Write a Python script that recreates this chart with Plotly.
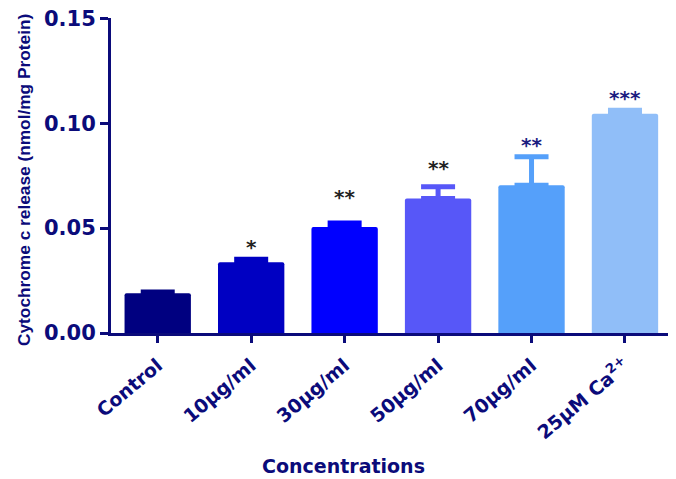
import plotly.graph_objects as go

# ---- data ----
categories = ["Control", "10µg/ml", "30µg/ml", "50µg/ml", "70µg/ml", "25µM Ca<sup>2+</sup>"]
means = [0.0189, 0.0337, 0.0506, 0.0641, 0.0705, 0.1046]
sems = [0.0006, 0.0015, 0.0019, 0.0056, 0.0135, 0.0016]
stars = ["", "*", "**", "**", "**", "***"]
y_ticks = [0.00, 0.05, 0.10, 0.15]

# ---- styles ----
bar_colors = ["#000080", "#0000C2", "#0000FF", "#5757F8", "#55A0FA", "#90BEF8"]
star_colors = ["#222222", "#222222", "#222222", "#222222", "#1c1c80", "#1c1c80"]
star_shift_px = [0, 12, 26, 19, 12, 12]
NAVY = "#0b0b7a"
BOLD = "DejaVu Sans"
PAGE_OFF = 8  # default body margin of the html page

W, H = 676 - PAGE_OFF, 479 - PAGE_OFF
L, T, B = 111 - PAGE_OFF, 18 - PAGE_OFF, 479 - 333

fig = go.Figure()
for i, cat in enumerate(categories):
    fig.add_trace(go.Bar(
        x=[i], y=[means[i]], width=0.71,
        marker=dict(color=bar_colors[i], line=dict(width=0), cornerradius=2),
        error_y=dict(type="data", symmetric=False, array=[sems[i]], arrayminus=[0],
                     color=bar_colors[i], thickness=5, width=17),
        showlegend=False, hoverinfo="skip",
    ))
    if stars[i]:
        fig.add_annotation(x=i, y=means[i] + sems[i], text=f"<b>{stars[i]}</b>",
                           showarrow=False, yanchor="middle", yshift=star_shift_px[i],
                           font=dict(family=BOLD, size=20, color=star_colors[i]))

fig.update_layout(
    width=W, height=H,
    margin=dict(l=L, r=0, t=T, b=B, pad=0),
    paper_bgcolor="white", plot_bgcolor="white",
    barmode="overlay",
    xaxis=dict(
        range=[-0.5, 5.546], tickmode="array",
        tickvals=list(range(len(categories))),
        ticktext=[f"<b>{c}</b>" for c in categories],
        tickangle=-40, showline=True, linecolor=NAVY, linewidth=3,
        ticks="outside", ticklen=7, tickwidth=3, tickcolor=NAVY,
        tickfont=dict(family=BOLD, size=19, color=NAVY),
        showgrid=False, zeroline=False, automargin=False,
        ticklabelstandoff=4, ticklabeloverflow="allow",
    ),
    yaxis=dict(
        range=[0, 0.1502], tickmode="array", tickvals=y_ticks,
        ticktext=[f"<b>{v:.2f}</b>" for v in y_ticks],
        showline=True, linecolor=NAVY, linewidth=3,
        ticks="outside", ticklen=8, tickwidth=3, tickcolor=NAVY,
        tickfont=dict(family=BOLD, size=21, color=NAVY),
        showgrid=False, zeroline=False, automargin=False,
        ticklabeloverflow="allow",
    ),
)

plot_w, plot_h = W - L, H - T - B
fig.add_annotation(xref="paper", yref="paper", x=(343 - 111) / plot_w, y=(333 - 466) / plot_h,
                   text="<b>Concentrations</b>", showarrow=False,
                   xanchor="center", yanchor="middle",
                   font=dict(family=BOLD, size=19, color=NAVY))
fig.add_annotation(xref="paper", yref="paper", x=(24 - 111) / plot_w, y=(333 - 180) / plot_h,
                   text="<b>Cytochrome c release (nmol/mg Protein)</b>", showarrow=False,
                   textangle=-90, xanchor="center", yanchor="middle",
                   font=dict(family="Liberation Sans", size=17.3, color=NAVY))

fig.write_html("out.html")
